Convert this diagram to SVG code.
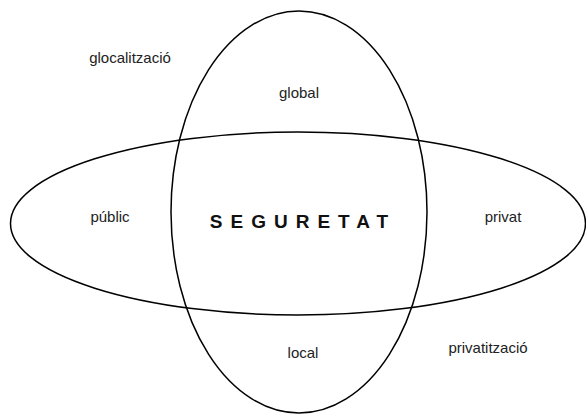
<svg xmlns="http://www.w3.org/2000/svg" width="586" height="414" viewBox="0 0 586 414">
<style>
.shape{fill:none;stroke:#000;stroke-width:1.5}
.lbl{font-family:"Liberation Sans",Arial,sans-serif;font-size:15px;fill:#222;text-anchor:middle}
.title{font-family:"Liberation Sans",Arial,sans-serif;font-size:19px;font-weight:bold;fill:#111;text-anchor:middle;letter-spacing:8px}
</style>
<rect width="586" height="414" fill="#fff"/>
<g id="connectors"></g>
<g id="ellipse-vertical"><ellipse class="shape" cx="299" cy="212" rx="128" ry="201"/></g>
<g id="ellipse-horizontal"><ellipse class="shape" cx="298" cy="223.5" rx="287.5" ry="91.5"/></g>
<g id="seguretat"><text class="title" x="303" y="228">SEGURETAT</text></g>
<g id="glocalitzacio"><text class="lbl" x="130" y="63">glocalització</text></g>
<g id="global"><text class="lbl" x="299" y="98">global</text></g>
<g id="public"><text class="lbl" x="110" y="222">públic</text></g>
<g id="privat"><text class="lbl" x="503" y="222">privat</text></g>
<g id="local"><text class="lbl" x="303" y="358">local</text></g>
<g id="privatitzacio"><text class="lbl" x="488" y="353">privatització</text></g>
</svg>
